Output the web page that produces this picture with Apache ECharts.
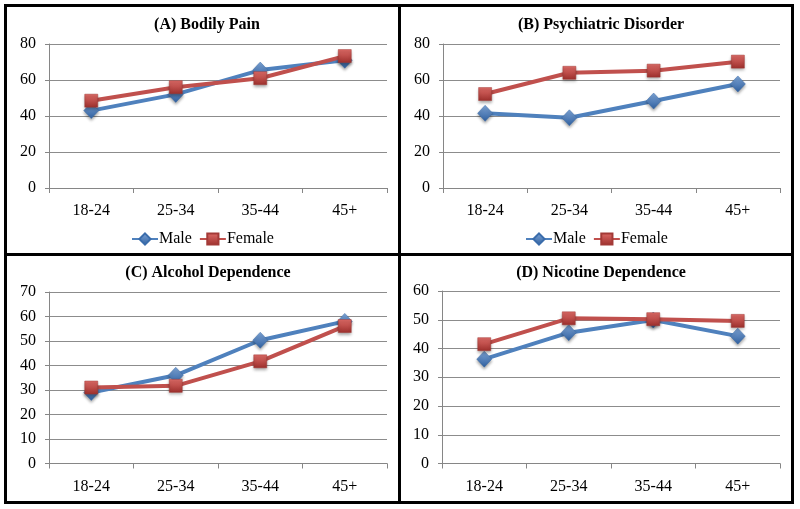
<!DOCTYPE html>
<html>
<head>
<meta charset="utf-8">
<script src="https://cdn.jsdelivr.net/npm/echarts@6/dist/echarts.min.js"></script>
<style>
html,body{margin:0;padding:0;background:#fff;}
#chart{width:800px;height:509px;}
</style>
</head>
<body>
<div id="chart"></div>
<script>
const categories = ['18-24', '25-34', '35-44', '45+'];
const panelTitles = ['(A) Bodily Pain', '(B) Psychiatric Disorder', '(C) Alcohol Dependence', '(D) Nicotine Dependence'];
const painMale = [43, 52, 65.5, 71];
const painFemale = [48.5, 56, 61, 73.3];
const psychMale = [41.5, 39, 48.3, 57.8];
const psychFemale = [52.2, 64, 65.2, 70.2];
const alcMale = [29, 36, 50.3, 58];
const alcFemale = [31, 31.7, 41.7, 56.1];
const nicMale = [36.3, 45.5, 49.9, 44.3];
const nicFemale = [41.5, 50.5, 50.2, 49.6];
const yMax = [80, 80, 70, 60];
const yInterval = [20, 20, 10, 10];

const maleSets = [painMale, psychMale, alcMale, nicMale];
const femaleSets = [painFemale, psychFemale, alcFemale, nicFemale];

const BLUE = '#4F81BD';
const RED = '#C0504D';
const FONT = '"Liberation Serif", "Times New Roman", serif';

const grids = [
  {left: 49, top: 44, width: 338, height: 144},
  {left: 443, top: 44, width: 337, height: 144},
  {left: 49, top: 292, width: 338, height: 171.5},
  {left: 442, top: 291, width: 338, height: 172.5}
];
const titleCenters = [[202, 12], [596, 12], [203, 260], [596, 260]];

function grad(c1, c2) {
  return new echarts.graphic.LinearGradient(0, 0, 0, 1, [
    {offset: 0, color: c1}, {offset: 1, color: c2}
  ]);
}

const option = {
  backgroundColor: '#fff',
  animation: false,
  title: panelTitles.map((t, i) => ({
    text: t,
    left: titleCenters[i][0],
    top: titleCenters[i][1],
    textAlign: 'center',
    textStyle: {fontFamily: FONT, fontWeight: 'bold', fontSize: 16, color: '#000'}
  })),
  legend: [0, 1].map(i => ({
    data: ['Male', 'Female'],
    left: i === 0 ? 131 : 525,
    top: 231,
    padding: 0,
    itemWidth: 26,
    itemHeight: 14,
    itemGap: 7,
    textStyle: {fontFamily: FONT, fontSize: 16, color: '#000', padding: [0, 0, 0, -4]}
  })),
  grid: grids,
  xAxis: grids.map((g, i) => ({
    type: 'category',
    gridIndex: i,
    data: categories,
    boundaryGap: true,
    axisLine: {lineStyle: {color: '#868686', width: 1}},
    axisTick: {show: true, length: 5, lineStyle: {color: '#868686'}},
    axisLabel: {fontFamily: FONT, fontSize: 16, color: '#000', margin: 15}
  })),
  yAxis: grids.map((g, i) => ({
    type: 'value',
    gridIndex: i,
    min: 0,
    max: yMax[i],
    interval: yInterval[i],
    axisLine: {show: true, lineStyle: {color: '#868686', width: 1}},
    axisTick: {show: true, length: 4, lineStyle: {color: '#868686'}},
    splitLine: {lineStyle: {color: '#8c8c8c', width: 1}},
    axisLabel: {fontFamily: FONT, fontSize: 16, color: '#000', margin: 13}
  })),
  series: [],
  graphic: [
    {type: 'rect', shape: {x: 5.5, y: 5.5, width: 787, height: 497}, style: {fill: null, stroke: '#000', lineWidth: 3}, z: 100},
    {type: 'line', shape: {x1: 399.5, y1: 5, x2: 399.5, y2: 503}, style: {stroke: '#000', lineWidth: 3}, z: 100},
    {type: 'line', shape: {x1: 5, y1: 254.5, x2: 793, y2: 254.5}, style: {stroke: '#000', lineWidth: 3}, z: 100}
  ]
};

for (let i = 0; i < 4; i++) {
  option.series.push({
    name: 'Male',
    type: 'line',
    xAxisIndex: i,
    yAxisIndex: i,
    data: maleSets[i],
    symbol: 'diamond',
    symbolSize: [15, 16],
    lineStyle: {color: BLUE, width: 4},
    itemStyle: {color: grad('#7fa6d8', '#2f5f9e'), borderColor: '#3a6cab', borderWidth: 0.5,
      shadowColor: 'rgba(0,0,0,0.35)', shadowBlur: 3, shadowOffsetY: 2},
    z: 2
  });
  option.series.push({
    name: 'Female',
    type: 'line',
    xAxisIndex: i,
    yAxisIndex: i,
    data: femaleSets[i],
    symbol: 'rect',
    symbolSize: 13,
    lineStyle: {color: RED, width: 4},
    itemStyle: {color: grad('#e06c68', '#9c2f2c'), borderColor: '#a33a37', borderWidth: 0.5,
      shadowColor: 'rgba(0,0,0,0.35)', shadowBlur: 3, shadowOffsetY: 2},
    z: 3
  });
}

const chart = echarts.init(document.getElementById('chart'), null, {renderer: 'canvas'});
chart.setOption(option);
</script>
</body>
</html>
